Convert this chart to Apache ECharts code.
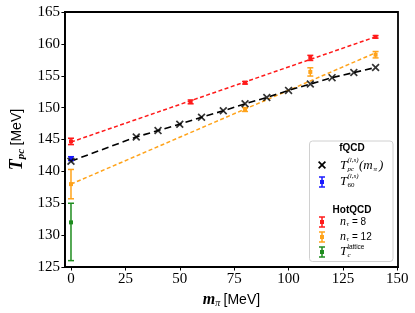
<!DOCTYPE html>
<html><head><meta charset="utf-8">
<script src="https://cdn.jsdelivr.net/npm/echarts@6/dist/echarts.min.js"></script>
<style>html,body{margin:0;padding:0;background:#fff}#c{width:415px;height:313px}</style>
</head><body><div id="c"></div>
<script>
// fQCD T_pc(m_pi) crosses
const fqcdX = [0, 30, 40, 50, 60, 70, 80, 90, 100, 110, 120, 130, 140];
const fqcdY = [141.6, 145.4, 146.4, 147.4, 148.5, 149.5, 150.6, 151.6, 152.7, 153.7, 154.7, 155.5, 156.3];
// fQCD T_60
const t60X = [0], t60Y = [142.0], t60Err = [0.3];
// HotQCD n_tau = 8
const n8X = [0, 55, 80, 110, 140];
const n8Y = [144.7, 150.9, 153.9, 157.8, 161.1];
const n8Err = [0.5, 0.3, 0.2, 0.4, 0.2];
const n8FitX = [0, 140], n8FitY = [144.6, 161.1];
// HotQCD n_tau = 12
const n12X = [0, 80, 110, 140];
const n12Y = [138.0, 149.7, 155.6, 158.3];
const n12Err = [2.3, 0.3, 0.65, 0.5];
const n12FitX = [0, 140], n12FitY = [138.0, 158.6];
// T_c lattice
const tcX = [0], tcY = [132.0], tcLo = [126.0], tcHi = [135.0];
// ticks
const xTicks = [0, 25, 50, 75, 100, 125, 150];

const RED = '#ff1a1a', ORANGE = '#ffa31a', GREEN = '#1e8c1e', BLUE = '#1a1aff';
const SERIF = 'Liberation Serif';

function zip(xs, ys) { return xs.map((x, i) => [x, ys[i]]); }
function errData(xs, ys, lo, hi) { return xs.map((x, i) => [x, ys[i], lo[i], hi[i]]); }
function errSeries(data, color, cap, msize) {
  return {
    type: 'custom', z: 5, data: data,
    renderItem: function (params, api) {
      const x = api.value(0), y = api.value(1), lo = api.value(2), hi = api.value(3);
      const pl = api.coord([x, lo]), ph = api.coord([x, hi]), pc = api.coord([x, y]);
      const st = { stroke: color, lineWidth: 1.5 };
      return { type: 'group', children: [
        { type: 'line', shape: { x1: pl[0], y1: pl[1], x2: ph[0], y2: ph[1] }, style: st },
        { type: 'line', shape: { x1: pl[0] - cap, y1: pl[1], x2: pl[0] + cap, y2: pl[1] }, style: st },
        { type: 'line', shape: { x1: ph[0] - cap, y1: ph[1], x2: ph[0] + cap, y2: ph[1] }, style: st },
        { type: 'rect', shape: { x: pc[0] - msize / 2, y: pc[1] - msize / 2, width: msize, height: msize }, style: { fill: color } }
      ] };
    }
  };
}

const chart = echarts.init(document.getElementById('c'), null, { renderer: 'canvas' });
const crossPath = 'path://M0,1.5L1.5,0L5,3.5L8.5,0L10,1.5L6.5,5L10,8.5L8.5,10L5,6.5L1.5,10L0,8.5L3.5,5Z';

// legend graphics
const LX = 322, TX = 340;
function legErr(y, color) {
  return [
    { type: 'line', shape: { x1: LX, y1: y - 5, x2: LX, y2: y + 5 }, style: { stroke: color, lineWidth: 1.5 } },
    { type: 'line', shape: { x1: LX - 3, y1: y - 5, x2: LX + 3, y2: y - 5 }, style: { stroke: color, lineWidth: 1.5 } },
    { type: 'line', shape: { x1: LX - 3, y1: y + 5, x2: LX + 3, y2: y + 5 }, style: { stroke: color, lineWidth: 1.5 } },
    { type: 'rect', shape: { x: LX - 2, y: y - 2, width: 4, height: 4 }, style: { fill: color } }
  ];
}
function txt(x, y, t, font, extra) {
  return { type: 'text', x: x, y: y, style: Object.assign({ text: t, font: font, fill: '#000', verticalAlign: 'middle' }, extra || {}) };
}
const cx0 = LX - 4, cy0 = 161, cs = 0.8;
const crossPts = [[0,1.5],[1.5,0],[5,3.5],[8.5,0],[10,1.5],[6.5,5],[10,8.5],[8.5,10],[5,6.5],[1.5,10],[0,8.5],[3.5,5]].map(p => [cx0 + p[0] * cs, cy0 + p[1] * cs]);
const graphics = [
  { type: 'rect', shape: { x: 309.5, y: 141, width: 83.5, height: 120.5, r: 3 }, style: { fill: 'rgba(255,255,255,0.8)', stroke: '#d0d0d0', lineWidth: 1 }, z: 10 },
  txt(352, 148, 'fQCD', 'bold 10px Liberation Sans', { align: 'center' }),
  { type: 'polygon', shape: { points: crossPts }, style: { fill: '#000' } },
  txt(TX, 166, 'T', 'italic 13px ' + SERIF),
  txt(347.5, 160.5, '(l,s)', 'italic 7px ' + SERIF),
  txt(347.5, 169.5, 'pc', 'italic 7px ' + SERIF),
  txt(359, 166, '(m', 'italic 13px ' + SERIF),
  txt(373.5, 169, 'π', 'italic 7px ' + SERIF),
  txt(379, 166, ')', 'italic 13px ' + SERIF),
  txt(TX, 182, 'T', 'italic 13px ' + SERIF),
  txt(347.5, 176.5, '(l,s)', 'italic 7px ' + SERIF),
  txt(347.5, 185.5, '60', '7px ' + SERIF),
  txt(352, 210, 'HotQCD', 'bold 10px Liberation Sans', { align: 'center' }),
  txt(TX, 222, 'n', 'italic 12px ' + SERIF),
  txt(346.5, 224.5, 'τ', 'italic 7px ' + SERIF),
  txt(352, 222, '= 8', '10px Liberation Sans'),
  txt(TX, 237, 'n', 'italic 12px ' + SERIF),
  txt(346.5, 239.5, 'τ', 'italic 7px ' + SERIF),
  txt(352, 237, '= 12', '10px Liberation Sans'),
  txt(TX, 252, 'T', 'italic 13px ' + SERIF),
  txt(347.5, 255, 'c', 'italic 7px ' + SERIF),
  txt(347.5, 247.5, 'lattice', '6.5px Liberation Sans')
].concat(legErr(182, BLUE), legErr(222, RED), legErr(237, ORANGE), legErr(252, GREEN));
graphics.forEach(g => { if (g.z === undefined) g.z = 11; });

chart.setOption({
  animation: false,
  grid: { left: 55, right: 17, top: 12, bottom: 46, show: true, borderColor: '#000', borderWidth: 1.8, backgroundColor: 'transparent' },
  xAxis: {
    type: 'value', min: -2.8, max: 150.3,
    name: '{m|m}{s|π} {u|[MeV]}', nameLocation: 'middle', nameGap: 21,
    nameTextStyle: { rich: {
      m: { fontFamily: SERIF, fontStyle: 'italic', fontWeight: 'bold', fontSize: 16 },
      s: { fontFamily: SERIF, fontStyle: 'italic', fontSize: 10, verticalAlign: 'bottom', padding: [6, 0, 0, 0] },
      u: { fontFamily: 'Liberation Sans', fontSize: 14 } } },
    axisLine: { show: true, onZero: false, lineStyle: { color: '#000', width: 1.8 } },
    axisTick: { show: true, length: 3.5, inside: false, customValues: xTicks, lineStyle: { color: '#000', width: 1 } },
    axisLabel: { customValues: xTicks, fontFamily: SERIF, fontSize: 15, color: '#000', margin: 5 },
    splitLine: { show: false }
  },
  yAxis: {
    type: 'value', min: 125, max: 165, interval: 5,
    name: '{t|T}{s|pc} {u|[MeV]}', nameLocation: 'middle', nameGap: 36, nameRotate: 90,
    nameTextStyle: { rich: {
      t: { fontFamily: SERIF, fontStyle: 'italic', fontWeight: 'bold', fontSize: 18 },
      s: { fontFamily: SERIF, fontStyle: 'italic', fontWeight: 'bold', fontSize: 11, padding: [8, 0, 0, 0] },
      u: { fontFamily: 'Liberation Sans', fontSize: 14 } } },
    axisLine: { show: true, onZero: false, lineStyle: { color: '#000', width: 1.8 } },
    axisTick: { show: true, length: 3.5, lineStyle: { color: '#000', width: 1 } },
    axisLabel: { fontFamily: SERIF, fontSize: 15, color: '#000', margin: 5 },
    splitLine: { show: false }
  },
  series: [
    { type: 'line', data: zip(n8FitX, n8FitY), symbol: 'none', z: 2, lineStyle: { color: RED, width: 1.5, type: [4, 2.5] } },
    { type: 'line', data: zip(n12FitX, n12FitY), symbol: 'none', z: 2, lineStyle: { color: ORANGE, width: 1.5, type: [4, 2.5] } },
    { type: 'line', data: zip(fqcdX, fqcdY), symbol: 'none', z: 3, lineStyle: { color: '#000', width: 1.6, type: [7, 4] } },
    errSeries(errData(t60X, t60Y, t60Y.map((v, i) => v - t60Err[i]), t60Y.map((v, i) => v + t60Err[i])), BLUE, 3, 4),
    errSeries(errData(n8X, n8Y, n8Y.map((v, i) => v - n8Err[i]), n8Y.map((v, i) => v + n8Err[i])), RED, 3, 4),
    errSeries(errData(n12X, n12Y, n12Y.map((v, i) => v - n12Err[i]), n12Y.map((v, i) => v + n12Err[i])), ORANGE, 3, 4),
    errSeries(errData(tcX, tcY, tcLo, tcHi), GREEN, 3, 4),
    { type: 'scatter', data: zip(fqcdX, fqcdY), symbol: crossPath, symbolSize: 8, z: 6, itemStyle: { color: '#000' } }
  ],
  graphic: graphics
});
</script></body></html>
